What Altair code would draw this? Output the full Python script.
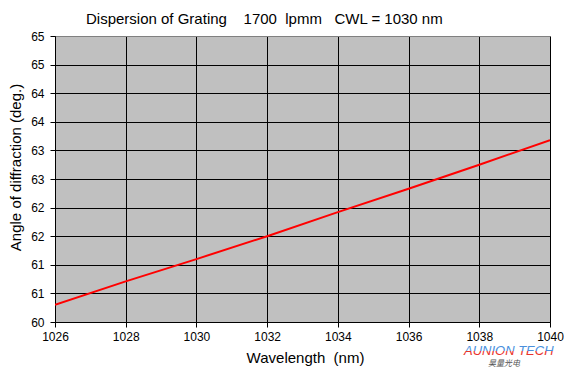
import altair as alt
import pandas as pd

# Data
wavelength = [1026, 1028, 1030, 1032, 1034, 1036, 1038, 1040]
angle = [60.30, 60.71, 61.10, 61.50, 61.92, 62.33, 62.75, 63.18]

x_ticks = [1026, 1028, 1030, 1032, 1034, 1036, 1038, 1040]
y_ticks = [60, 60.5, 61, 61.5, 62, 62.5, 63, 63.5, 64, 64.5, 65]
y_labels = ["60", "61", "61", "62", "62", "63", "63", "64", "64", "65", "65"]

title_text = ["Dispersion of Grating\u00a0\u00a0\u00a0\u00a01700\u00a0\u00a0lpmm\u00a0\u00a0\u00a0CWL = 1030 nm"]
x_title = "Wavelength\u00a0\u00a0(nm)"
y_title = "Angle of diffraction (deg.)"
logo_main = ["AUNION TECH"]
logo_sub = ["昊量光电"]

FONT = "Arial, Liberation Sans, sans-serif"

df = pd.DataFrame({"wl": wavelength, "ang": angle})

label_expr = " : ".join(
    [f"datum.value == {v} ? '{l}'" for v, l in zip(y_ticks, y_labels)]
) + " : ''"

W, H = 495, 286

line = alt.Chart(df).mark_line(color="#ff0000", strokeWidth=2, clip=True).encode(
    x=alt.X(
        "wl:Q",
        scale=alt.Scale(domain=[1026, 1040], nice=False, zero=False),
        axis=alt.Axis(
            values=x_ticks,
            format="d",
            title=x_title,
            grid=True,
            gridColor="#000000",
            gridOpacity=1,
            gridWidth=1,
            domainColor="#000000",
            tickColor="#000000",
            tickSize=5,
            labelPadding=4,
            labelFontSize=12,
            labelColor="#000000",
            labelFont=FONT,
            labelFlush=False,
            titleFont=FONT,
            titleFontSize=15,
            titleFontWeight="normal",
            titleColor="#000000",
            titleBaseline="alphabetic",
            titleX=250,
            titleY=40,
            titleAnchor="start",
            titleAlign="center",
        ),
    ),
    y=alt.Y(
        "ang:Q",
        scale=alt.Scale(domain=[60, 65], nice=False, zero=False),
        axis=alt.Axis(
            values=y_ticks,
            labelExpr=label_expr,
            title=y_title,
            grid=True,
            gridColor={"condition": {"test": "datum.value == 65", "value": "#808080"}, "value": "#000000"},
            gridOpacity=1,
            gridWidth=1,
            domainColor="#000000",
            tickColor="#000000",
            tickSize=5,
            labelPadding=6,
            labelFontSize=12,
            labelColor="#000000",
            labelFont=FONT,
            labelFlush=False,
            titleFont=FONT,
            titleFontSize=15,
            titleFontWeight="normal",
            titleColor="#000000",
            titleAngle=270,
            titleBaseline="alphabetic",
            titleAlign="center",
            titleX=-35,
            titleY=131,
        ),
    ),
)

title = alt.Chart(pd.DataFrame({"t": title_text})).mark_text(
    align="left",
    baseline="alphabetic",
    font=FONT,
    fontSize=15,
    color="#000000",
).encode(x=alt.value(31), y=alt.value(-12), text="t:N")

logo = alt.Chart(pd.DataFrame({"t": logo_main})).mark_text(
    align="left",
    baseline="alphabetic",
    font=FONT,
    fontSize=13,
    fontStyle="italic",
    color=alt.Gradient(
        gradient="linear",
        stops=[
            alt.GradientStop(offset=0, color="#4a8fdc"),
            alt.GradientStop(offset=0.55, color="#4a8fdc"),
            alt.GradientStop(offset=0.55, color="#e8332c"),
            alt.GradientStop(offset=1, color="#e8332c"),
        ],
        x1=0, x2=0, y1=0, y2=1,
    ),
).encode(x=alt.value(409), y=alt.value(319), text="t:N")

logo2 = alt.Chart(pd.DataFrame({"t": logo_sub})).mark_text(
    align="center",
    baseline="alphabetic",
    font="Noto Sans CJK SC",
    fontSize=8,
    fontStyle="italic",
    color="#555555",
).encode(x=alt.value(449), y=alt.value(330), text="t:N")

chart = (
    alt.layer(line, title, logo, logo2)
    .properties(
        width=W,
        height=H,
        autosize=alt.AutoSizeParams(type="none"),
        padding={"left": 47, "top": 28, "right": 14, "bottom": 46},
        background="#ffffff",
    )
    .configure_view(fill="#c0c0c0", stroke="#808080", strokeWidth=1)
)

chart.save("out.html", embed_options={"renderer": "svg", "actions": False})
